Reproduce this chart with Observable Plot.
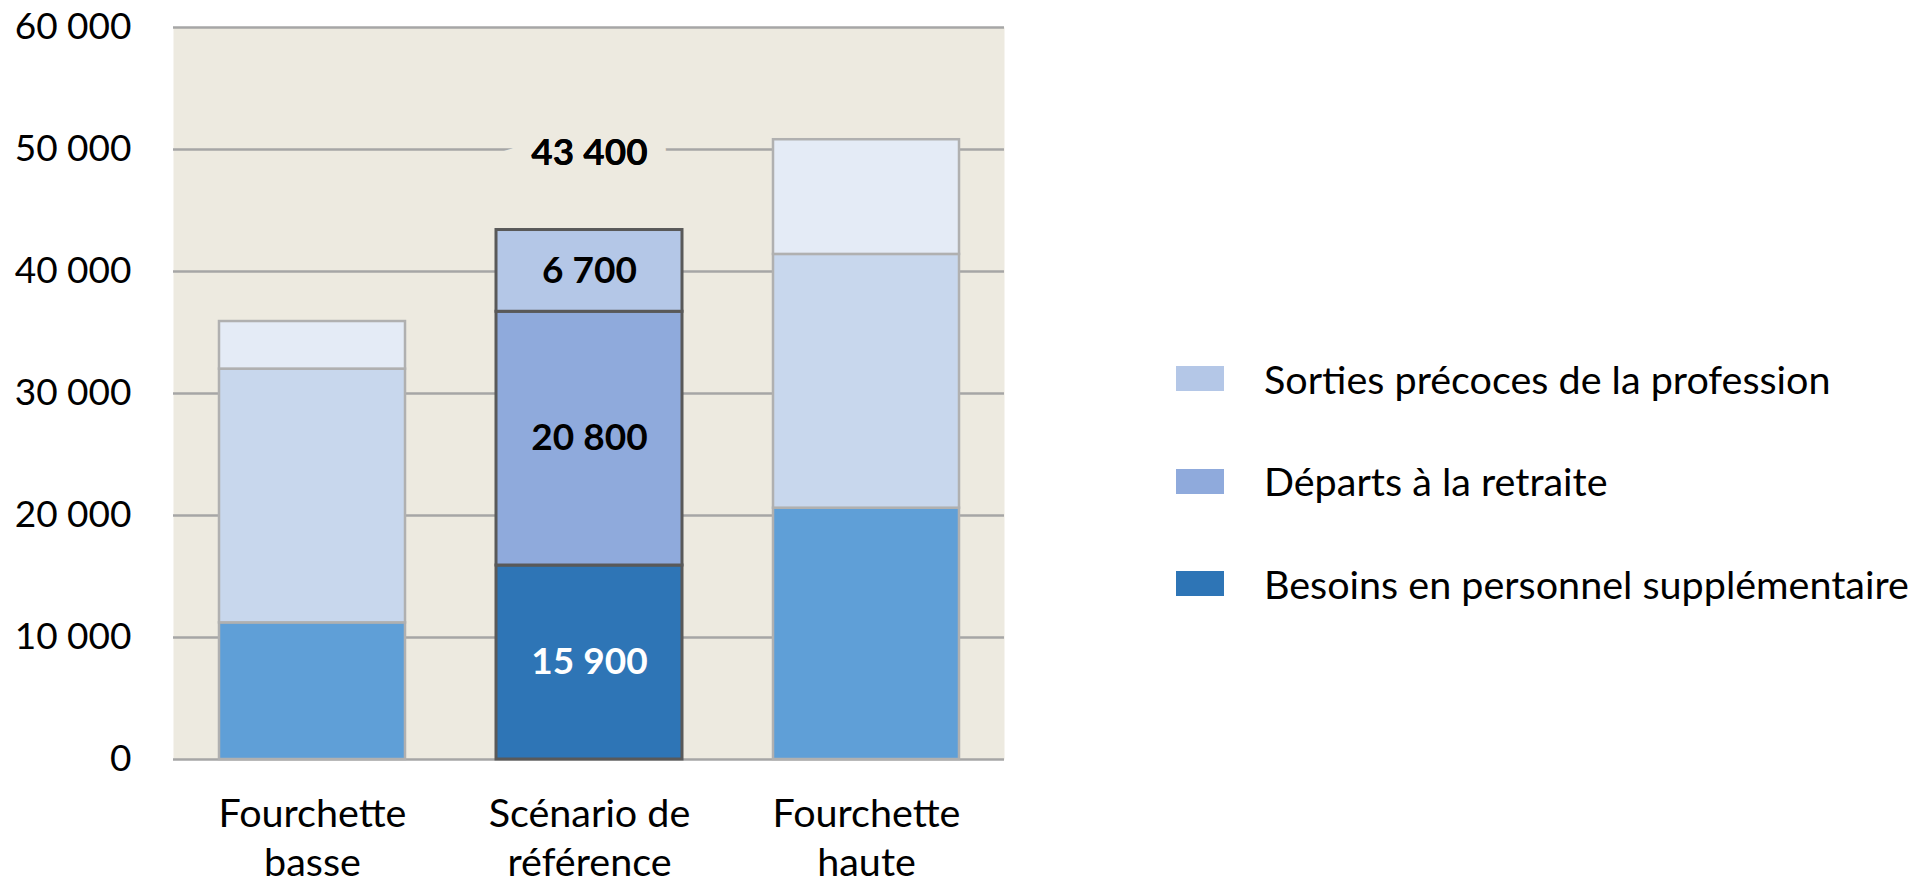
<!DOCTYPE html>
<html>
<head>
<meta charset="utf-8">
<script src="https://cdn.jsdelivr.net/npm/d3@7"></script>
<script src="https://cdn.jsdelivr.net/npm/@observablehq/plot@0.6"></script>
<style>
  html, body { margin: 0; padding: 0; background: #fff; }
  body { width: 1919px; height: 889px; position: relative; overflow: hidden; font-family: Lato, "Open Sans", sans-serif; }
  #chart { position: absolute; left: 0; top: 0; }
  #legend { position: absolute; left: 1176px; top: 366px; }
  .item { position: relative; height: 25px; margin-bottom: 77.5px; }
  .sw { position: absolute; left: 0; top: 0; width: 48px; height: 25px; }
  .lab { position: absolute; left: 88px; top: 12.5px; transform: translateY(-50%); font-size: 39.5px; white-space: nowrap; color: #000; line-height: 1; }
</style>
</head>
<body>
<div id="chart"></div>
<div id="legend"></div>
<script>
// ---- data ----
const categories = ["Fourchette basse", "Scénario de référence", "Fourchette haute"];
const categoryLabels = ["Fourchette\nbasse", "Scénario de\nréférence", "Fourchette\nhaute"];
const series = ["Besoins en personnel supplémentaire", "Départs à la retraite", "Sorties précoces de la profession"];
const besoins = [11200, 15900, 20600];
const departs = [20800, 20800, 20800];
const sorties = [3900, 6700, 9400];
const labelledCategory = "Scénario de référence";
const yTicks = [0, 10000, 20000, 30000, 40000, 50000, 60000];

// ---- styles ----
const bg = "#EDEAE0";
const mainColors = {
  "Besoins en personnel supplémentaire": "#2E75B6",
  "Départs à la retraite": "#8FAADC",
  "Sorties précoces de la profession": "#B4C7E7"
};
const rangeColors = {
  "Besoins en personnel supplémentaire": "#5F9FD7",
  "Départs à la retraite": "#C8D7ED",
  "Sorties précoces de la profession": "#E4EBF6"
};
const labelColors = {
  "Besoins en personnel supplémentaire": "#FFFFFF",
  "Départs à la retraite": "#000000",
  "Sorties précoces de la profession": "#000000"
};

const seriesValues = [besoins, departs, sorties];
const rows = [];
categories.forEach((c, i) => {
  series.forEach((s, j) => rows.push({cat: c, series: s, value: seriesValues[j][i]}));
});
const totals = categories.map((c, i) => ({cat: c, total: besoins[i] + departs[i] + sorties[i]}));

const fmt = v => d3.format(",")(v).replace(/,/g, " ");
const mainRows = rows.filter(d => d.cat === labelledCategory);
const rangeRows = rows.filter(d => d.cat !== labelledCategory);
const mainTotal = totals.filter(d => d.cat === labelledCategory);

const chart = Plot.plot({
  width: 1010,
  height: 889,
  marginLeft: 173,
  marginRight: 6,
  marginTop: 27,
  marginBottom: 130,
  style: {fontFamily: "Lato, 'Open Sans', sans-serif", fontSize: "37px", color: "#000", background: "transparent", overflow: "visible"},
  x: {domain: categories, paddingInner: 0.33, paddingOuter: 0.165, label: null},
  y: {domain: [0, 60000], label: null},
  marks: [
    Plot.frame({fill: bg, stroke: null}),
    Plot.gridY(yTicks, {stroke: "#A6A6A6", strokeOpacity: 1, strokeWidth: 2.5}),
    Plot.barY(rangeRows, Plot.stackY({x: "cat", y: "value", order: series, fill: d => rangeColors[d.series], stroke: "#B0B0B0", strokeWidth: 2.5})),
    Plot.barY(mainRows, Plot.stackY({x: "cat", y: "value", order: series, fill: d => mainColors[d.series], stroke: "#595959", strokeWidth: 3})),
    Plot.text(mainRows, Plot.stackY({x: "cat", y: "value", order: series, text: d => fmt(d.value), fill: d => labelColors[d.series], fontWeight: "bold", fontSize: 37})),
    Plot.text(mainTotal, {x: "cat", y: "total", text: d => fmt(d.total), dy: -77, fontWeight: "bold", fontSize: 37, fill: "#000", stroke: bg, strokeWidth: 38, strokeLinejoin: "miter"}),
    Plot.text(mainTotal, {x: "cat", y: "total", text: d => fmt(d.total), dy: -77, fontWeight: "bold", fontSize: 37, fill: "#000"}),
    Plot.axisY({ticks: yTicks, tickFormat: fmt, tickSize: 0, tickPadding: 42, label: null, fontSize: 37}),
    Plot.axisX({tickSize: 0, tickPadding: 33, label: null, lineHeight: 1.24, fontSize: 39.5, tickFormat: d => categoryLabels[categories.indexOf(d)]})
  ]
});
document.getElementById("chart").appendChild(chart);

// ---- legend (top to bottom: reverse stacking order) ----
const legend = document.getElementById("legend");
series.slice().reverse().forEach(s => {
  const item = document.createElement("div");
  item.className = "item";
  const sw = document.createElement("div");
  sw.className = "sw";
  sw.style.background = mainColors[s];
  const lab = document.createElement("div");
  lab.className = "lab";
  lab.textContent = s;
  item.appendChild(sw);
  item.appendChild(lab);
  legend.appendChild(item);
});
</script>
</body>
</html>
